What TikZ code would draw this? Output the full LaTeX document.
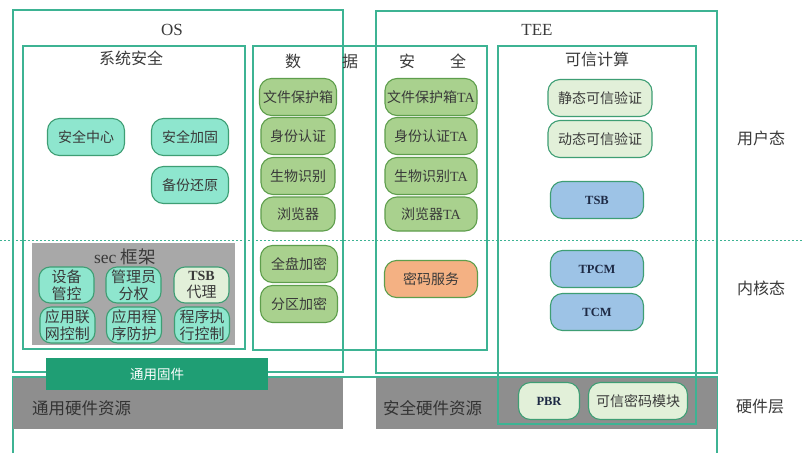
\documentclass[tikz,border=0pt]{standalone}
\usepackage{fontspec}
\setmainfont{Liberation Serif}
\newfontfamily\cjk{Noto Sans CJK SC}
\definecolor{frameC}{HTML}{3DB393}
\definecolor{tealF}{HTML}{8EE6CE}
\definecolor{tealD}{HTML}{3E9E74}
\definecolor{greenF}{HTML}{A9D18E}
\definecolor{greenD}{HTML}{5E9E4C}
\definecolor{blueF}{HTML}{9DC3E6}
\definecolor{lightF}{HTML}{E2F0D9}
\definecolor{orangeF}{HTML}{F4B183}
\definecolor{hwgray}{HTML}{8E8E8E}
\definecolor{secgray}{HTML}{A8A8A8}
\definecolor{fwgreen}{HTML}{1F9E74}
\definecolor{txt}{HTML}{3A3A3A}
\definecolor{navy}{HTML}{1E2A45}
\tikzset{
  frame/.style={draw=frameC, line width=1.3},
  pill/.style={rounded corners=12, line width=1.1, inner sep=0pt, text=txt,
    minimum height=37, font=\fontsize{14}{16}\selectfont\cjk},
  tbox/.style={pill, draw=tealD, fill=tealF, minimum width=77},
  gbox/.style={pill, draw=greenD, fill=greenF, minimum width=77},
  gtabox/.style={pill, draw=greenD, fill=greenF, minimum width=92},
  obox/.style={pill, draw=greenD, fill=orangeF, minimum width=93},
  lbox/.style={pill, draw=tealD, fill=lightF, minimum width=104},
  bbox/.style={pill, draw=tealD, fill=blueF, minimum width=93, font=\fontsize{12.5}{14}\selectfont\bfseries, text=navy},
  sbox/.style={pill, draw=tealD, fill=tealF, minimum width=55, minimum height=36, rounded corners=11,
    align=center, font=\fontsize{15}{17}\selectfont\cjk},
  title/.style={text=txt, font=\fontsize{16}{18}\selectfont\cjk, inner sep=0pt},
  ltitle/.style={text=txt, font=\fontsize{17}{19}\selectfont, inner sep=0pt},
}
\begin{document}
\begin{tikzpicture}[x=1pt,y=-1pt]
\useasboundingbox (0,0) rectangle (804,453);
\fill[white] (0,0) rectangle (804,453);
% hardware outer lines
\draw[frame] (13,453) -- (13,377) -- (717,377) -- (717,453);
% gray hardware boxes
\fill[hwgray] (13,378) rectangle (343,429);
\fill[hwgray] (376,378) rectangle (717,429);
% frames
\draw[frame] (13,10) rectangle (343,372);
\draw[frame] (23,46) rectangle (245,349);
\draw[frame] (253,46) rectangle (487,350);
\draw[frame] (376,11) rectangle (717,373);
\draw[frame] (498,46) rectangle (696,424);
% firmware
\fill[fwgreen] (46,358) rectangle (268,390);
\node[text=white, font=\fontsize{13.5}{15}\selectfont\cjk, inner sep=0pt] (fw) at (157,374) {通用固件};
\node[text={rgb,255:red,51;green,51;blue,51}, font=\fontsize{16.5}{18}\selectfont\cjk, inner sep=0pt, anchor=west] (ghw) at (32,408) {通用硬件资源};
\node[text={rgb,255:red,51;green,51;blue,51}, font=\fontsize{16.5}{18}\selectfont\cjk, inner sep=0pt, anchor=west] (shw) at (383,408) {安全硬件资源};
% sec frame
\fill[secgray] (32,243) rectangle (235,345);
\node[text=txt, font=\fontsize{17.5}{19}\selectfont, inner sep=0pt] (secl) at (125,257) {sec {\cjk 框架}};
% titles
\node[ltitle] (os) at (172,30) {OS};
\node[ltitle] (tee) at (537,30) {TEE};
\node[title] (sys) at (131,58) {系统安全};
\node[title] (d1) at (293,61) {数};
\node[title] (d2) at (350,61) {据};
\node[title] (d3) at (407,61) {安};
\node[title] (d4) at (458,61) {全};
\node[title] (tc) at (597,59) {可信计算};
\node[title] (u) at (761,138) {用户态};
\node[title] (k) at (761,288) {内核态};
\node[title] (h) at (760,407) {硬件层};
% system security nodes
\node[tbox] (aqzx) at (86,137) {安全中心};
\node[tbox] (aqjg) at (190,137) {安全加固};
\node[tbox] (bfhy) at (190,185) {备份还原};
% sec framework nodes
\node[sbox] (sbgk) at (66.5,285) {设备\\管控};
\node[sbox] (glyf) at (133.5,285) {管理员\\分权};
\node[sbox, fill=lightF] (tsbdl) at (201.5,285) {{\rmfamily\bfseries\fontsize{14}{17}\selectfont TSB}\\代理};
\node[sbox] (yylw) at (67.5,325) {应用联\\网控制};
\node[sbox] (yycx) at (134,325) {应用程\\序防护};
\node[sbox] (cxzx) at (202,325) {程序执\\行控制};
% data security OS side
\node[gbox] (wjbh) at (298,97) {文件保护箱};
\node[gbox, minimum width=74] (sfrz) at (298,136) {身份认证};
\node[gbox, minimum width=74] (swsb) at (298,176) {生物识别};
\node[gbox, minimum width=74, minimum height=34] (llq) at (298,214) {浏览器};
\node[gbox] (qpjm) at (299,264) {全盘加密};
\node[gbox] (fqjm) at (299,304) {分区加密};
% data security TEE side
\node[gtabox] (wjbhta) at (431,97) {文件保护箱{\rmfamily TA}};
\node[gtabox] (sfrzta) at (431,136) {身份认证{\rmfamily TA}};
\node[gtabox] (swsbta) at (431,176) {生物识别{\rmfamily TA}};
\node[gtabox, minimum height=34] (llqta) at (431,214) {浏览器{\rmfamily TA}};
\node[obox] (mmfw) at (431,279) {密码服务};
% trusted computing
\node[lbox] (jtkx) at (600,98) {静态可信验证};
\node[lbox] (dtkx) at (600,139) {动态可信验证};
\node[bbox] (tsb) at (597,200) {TSB};
\node[bbox] (tpcm) at (597,269) {TPCM};
\node[bbox] (tcm) at (597,312) {TCM};
\node[lbox, minimum width=61, font=\fontsize{12.5}{14}\selectfont\bfseries, text=navy] (pbr) at (549,401) {PBR};
\node[lbox, minimum width=99] (kxmm) at (638,401) {可信密码模块};
% dashed separator
\draw[draw=frameC, line width=1, dash pattern=on 2pt off 2pt] (0,240) -- (804,240);
\end{tikzpicture}
\end{document}
